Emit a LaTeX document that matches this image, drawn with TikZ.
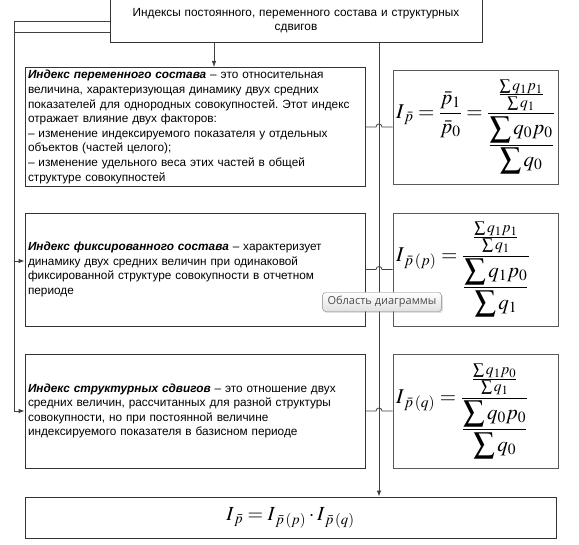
\documentclass[tikz,border=0pt]{standalone}
\usepackage{mathptmx}
\usepackage{amsmath}
\usepackage[no-math]{fontspec}
\setmainfont{Liberation Sans}
\newfontfamily\tipfont{Open Sans}
\usetikzlibrary{arrows.meta,shadows}
\frenchspacing
\begin{document}
\begin{tikzpicture}[x=1pt,y=-1pt,
  txtbox/.style={draw=black!80, line width=0.8pt, minimum width=340pt, inner sep=3pt,
    text width=334pt, align=left, font=\fontsize{11.8}{14.6}\selectfont},
  fbox/.style={draw=black!65, line width=0.8pt, minimum width=165pt, minimum height=114pt,
    inner sep=3pt, text width=159pt, align=left, font=\fontsize{21}{25}\selectfont},
  conn/.style={draw=black!75, line width=0.8pt},
  arr/.style={conn, -{Latex[length=6pt,width=4.5pt]}},
  tip/.style={draw=black!50, rounded corners=3pt, top color=white, bottom color=black!12,
    drop shadow={opacity=0.25, shadow xshift=1.5pt, shadow yshift=-1.5pt},
    text=black!70, font=\tipfont\fontsize{11}{13}\selectfont, minimum height=19pt, inner xsep=5pt}
]
\useasboundingbox (0,0) rectangle (579,545);

\node[txtbox, minimum width=372pt, text width=366pt, minimum height=44pt, align=center] (top) at (296,20.5)
  {Индексы постоянного, переменного состава и структурных\\сдвигов};

\node[txtbox, minimum height=114pt] (b1) at (195,127) {%
\textbf{\textit{Индекс переменного состава}} – это относительная\\
величина, характеризующая динамику двух средних\\
показателей для однородных совокупностей. Этот индекс\\
отражает влияние двух факторов:\\
– изменение индексируемого показателя у отдельных\\
объектов (частей целого);\\
– изменение удельного веса этих частей в общей\\
структуре совокупностей};

\node[txtbox, minimum height=113pt] (b2) at (195,269.5) {%
\textbf{\textit{Индекс фиксированного состава}} – характеризует\\
динамику двух средних величин при одинаковой\\
фиксированной структуре совокупности в отчетном\\
периоде};

\node[txtbox, minimum height=114pt] (b3) at (195,411) {%
\textbf{\textit{Индекс структурных сдвигов}} – это отношение двух\\
средних величин, рассчитанных для разной структуры\\
совокупности, но при постоянной величине\\
индексируемого показателя в базисном периоде};

\node[fbox] (f1) at (475.5,127) {$I_{\,\bar p}=\dfrac{\bar p_1}{\bar p_0}=\dfrac{\;\frac{\sum q_1p_1}{\sum q_1}\;}{\dfrac{\displaystyle\sum q_0p_0}{\displaystyle\sum q_0}}$};
\node[fbox, minimum height=113pt] (f2) at (475.5,269.5) {$I_{\,\bar p\,(p)}=\dfrac{\;\frac{\sum q_1p_1}{\sum q_1}\;}{\dfrac{\displaystyle\sum q_1p_0}{\displaystyle\sum q_1}}$};
\node[fbox] (f3) at (475.5,411.5) {$I_{\,\bar p\,(q)}=\dfrac{\;\frac{\sum q_1p_0}{\sum q_1}\;}{\dfrac{\displaystyle\sum q_0p_0}{\displaystyle\sum q_0}}$};

\node[draw=black!80, line width=0.8pt, minimum width=531pt, minimum height=41pt,
  font=\fontsize{20}{24}\selectfont] (res) at (290.5,517.5)
  {$I_{\,\bar p}=I_{\,\bar p\,(p)}\cdot I_{\,\bar p\,(q)}$};

% connectors
\draw[arr] (top.south -| 214,0) -- (b1.north -| 214,0);
\draw[arr] (top.west |- 0,21) -| (14,261) -- (b2.west |- 0,261);
\draw[arr] (top.west |- 0,32) -| (14,411) -- (b3.west |- 0,411);
\draw[arr] (top.south -| 379,0) -- (res.north -| 379,0);
\draw[conn] (b1.east) -- (b1.east -| 376,0) arc[start angle=180,end angle=0,radius=3pt] -- (f1.west |- b1.east);
\draw[conn] (b2.east) -- (b2.east -| 376,0) arc[start angle=180,end angle=0,radius=3pt] -- (f2.west |- b2.east);
\draw[conn] (b3.east) -- (b3.east -| 376,0) arc[start angle=180,end angle=0,radius=3pt] -- (f3.west |- b3.east);

\node[tip] (tt) at (382,302) {Область диаграммы};
\end{tikzpicture}
\end{document}
